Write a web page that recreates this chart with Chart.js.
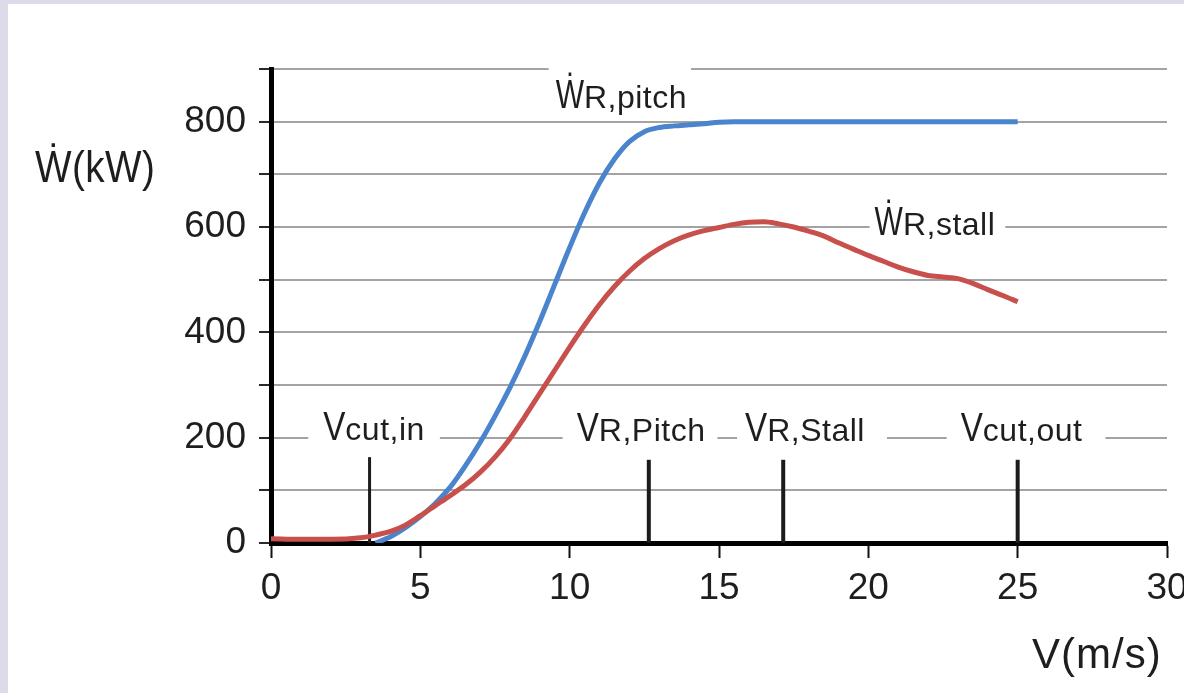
<!DOCTYPE html>
<html>
<head>
<meta charset="utf-8">
<script src="https://cdn.jsdelivr.net/npm/chart.js@4.4.1/dist/chart.umd.min.js"></script>
<style>
  html, body { margin: 0; padding: 0; width: 1184px; height: 693px; overflow: hidden; background: #dddaea; }
  #panel { position: absolute; left: 8px; top: 4px; width: 1176px; height: 689px; background: #ffffff; }
  #wrap { position: absolute; left: 0; top: 0; width: 1184px; height: 693px; }
</style>
</head>
<body>
<div id="panel"></div>
<div id="wrap"><canvas id="c" width="1184" height="693"></canvas></div>
<script>
// Wind speed (m/s) and rotor power (kW) for a pitch-regulated turbine
const pitchSpeed = [3.5, 4, 4.5, 5, 5.5, 6, 6.5, 7, 7.5, 8, 8.5, 9, 9.5, 10, 10.5, 11, 11.5, 12,
  12.5, 13, 13.5, 14, 14.5, 15, 15.5, 16, 17, 18, 19, 20, 21, 22, 23, 24, 25];
const pitchPower = [0, 12, 29, 50, 75, 106, 146, 191, 241, 295, 355, 421, 491, 561, 627, 684, 729, 762,
  781, 789, 792, 794, 796, 799, 800, 800, 800, 800, 800, 800, 800, 800, 800, 800, 800];

// Wind speed (m/s) and rotor power (kW) for a stall-regulated turbine
const stallSpeed = [0, 1, 2, 3, 3.5, 4, 4.5, 5, 5.5, 6, 6.5, 7, 7.5, 8, 8.5, 9, 9.5, 10, 10.5, 11,
  11.5, 12, 12.5, 13, 13.5, 14, 14.5, 15, 15.5, 16, 16.5, 17, 17.5, 18, 18.5, 19, 19.5, 20, 20.5,
  21, 21.5, 22, 22.5, 23, 23.5, 24, 24.5, 25];
const stallPower = [8, 7, 7, 10, 15, 22, 34, 52, 71, 90, 110, 134, 163, 198, 240, 284, 328, 372, 414, 453,
  487, 516, 540, 559, 574, 585, 593, 599, 605, 609, 610, 606, 600, 592, 583, 570, 558, 546, 535,
  524, 515, 508, 505, 502, 493, 481, 470, 458];

// Characteristic speeds: cut-in, rated (pitch), rated (stall), cut-out
const markerSpeed = [3.3, 12.65, 17.15, 25];
const markerHeight = [163, 158, 158, 158];

// Axis tick settings
const xTickStep = 5;
const yTickStep = 100;
const yLabelStep = 200;

const FONT = '"Liberation Sans", "Noto Sans", Arial, sans-serif';
const INK = '#1e1e1e';
const markerLineWidth = [3, 4, 4, 4];

// Text callouts, placed in data units (speed, power at the text baseline)
const callouts = [
  { speed: 3.45,  power: 195, lead: 'V', rest: 'cut,in',  padL: 15, padR: 15 },
  { speed: 12.39, power: 193, lead: 'V', rest: 'R,Pitch', padL: 14, padR: 12 },
  { speed: 17.88, power: 193, lead: 'V', rest: 'R,Stall', padL: 8,  padR: 22 },
  { speed: 25.13, power: 193, lead: 'V', rest: 'cut,out', padL: 14, padR: 23 },
  { speed: 11.73, power: 826, lead: 'Ẇ', rest: 'R,pitch', padL: 7,  padR: 4 },
  { speed: 22.23, power: 585, lead: 'Ẇ', rest: 'R,stall', padL: 5,  padR: 10 }
];

function setFont(ctx, p) {
  ctx.font = p.size + 'px ' + FONT;
  ctx.letterSpacing = (p.ls || 0) + 'px';
}
function runWidth(ctx, parts) {
  let w = 0;
  for (const p of parts) { setFont(ctx, p); w += ctx.measureText(p.text).width * p.sx; }
  return w;
}
function drawRun(ctx, x0, base, parts) {
  let x = x0;
  for (const p of parts) {
    setFont(ctx, p);
    const w = ctx.measureText(p.text).width;
    ctx.save();
    ctx.translate(x, base);
    ctx.scale(p.sx, 1);
    ctx.fillText(p.text, 0, 0);
    ctx.restore();
    x += w * p.sx;
  }
}

const annotationPlugin = {
  id: 'powerAnnotations',
  beforeDatasetsDraw(chart) {
    const { ctx, scales: { x, y } } = chart;
    ctx.save();
    ctx.textAlign = 'left';
    ctx.textBaseline = 'alphabetic';
    for (const c of callouts) {
      const parts = [
        { text: c.lead, size: 40, sx: c.lead === 'V' ? 0.83 : 0.75 },
        { text: c.rest, size: 32, sx: 1, ls: 0.5 }
      ];
      const w = runWidth(ctx, parts);
      const cx = x.getPixelForValue(c.speed);
      const base = y.getPixelForValue(c.power);
      const x0 = cx - w / 2;
      ctx.fillStyle = '#ffffff';
      ctx.fillRect(x0 - c.padL, base - 44, w + c.padL + c.padR, 54);
      ctx.fillStyle = INK;
      drawRun(ctx, x0, base, parts);
    }
    ctx.restore();
  },
  afterDraw(chart) {
    const { ctx } = chart;
    ctx.save();
    ctx.textAlign = 'left';
    ctx.textBaseline = 'alphabetic';
    ctx.fillStyle = INK;
    drawRun(ctx, 35, 182, [{ text: 'Ẇ(kW)', size: 44, sx: 0.88, ls: 0.5 }]);
    drawRun(ctx, 1032, 668, [{ text: 'V(m/s)', size: 42, sx: 1, ls: 1 }]);
    ctx.restore();
  }
};

const toPoints = (xs, ys) => xs.map((v, i) => ({ x: v, y: ys[i] }));

const datasets = [
  {
    label: 'stall',
    data: toPoints(stallSpeed, stallPower),
    borderColor: '#c8504c',
    borderWidth: 5,
    pointRadius: 0,
    cubicInterpolationMode: 'monotone',
    fill: false
  },
  {
    label: 'pitch',
    data: toPoints(pitchSpeed, pitchPower),
    borderColor: '#4a84cc',
    borderWidth: 5,
    pointRadius: 0,
    cubicInterpolationMode: 'monotone',
    fill: false
  }
];
markerSpeed.forEach((s, i) => {
  datasets.push({
    label: 'marker' + i,
    data: [{ x: s, y: 0 }, { x: s, y: markerHeight[i] }],
    borderColor: '#1c1c1c',
    borderWidth: markerLineWidth[i],
    pointRadius: 0,
    borderCapStyle: 'butt',
    fill: false
  });
});

new Chart(document.getElementById('c'), {
  type: 'line',
  data: { datasets },
  options: {
    responsive: false,
    animation: false,
    devicePixelRatio: 1,
    layout: { padding: { top: 69, right: 17, left: 0, bottom: 0 } },
    plugins: { legend: { display: false }, tooltip: { enabled: false } },
    scales: {
      x: {
        type: 'linear',
        min: 0,
        max: 30,
        ticks: {
          stepSize: xTickStep,
          autoSkip: false,
          maxRotation: 0,
          color: INK,
          padding: 9,
          font: { family: FONT, size: 37 }
        },
        grid: { drawOnChartArea: false, drawTicks: true, tickLength: 15, tickColor: '#111', tickWidth: 2 },
        border: { color: '#000', width: 5 },
        afterFit(s) { s.height = 150; s.paddingLeft = 0; s.paddingRight = 0; }
      },
      y: {
        min: 0,
        max: 900,
        ticks: {
          stepSize: yTickStep,
          autoSkip: false,
          color: INK,
          padding: 13,
          font: { family: FONT, size: 37 },
          callback: v => (v % yLabelStep === 0 && v < 900 ? String(v) : '')
        },
        grid: { color: '#a3a3a3', lineWidth: 2, tickLength: 12, tickColor: '#2a2a2a', tickWidth: 2 },
        border: { color: '#000', width: 5 },
        afterFit(s) { s.width = 271; s.paddingTop = 0; s.paddingBottom = 0; }
      }
    }
  },
  plugins: [annotationPlugin]
});
</script>
</body>
</html>
